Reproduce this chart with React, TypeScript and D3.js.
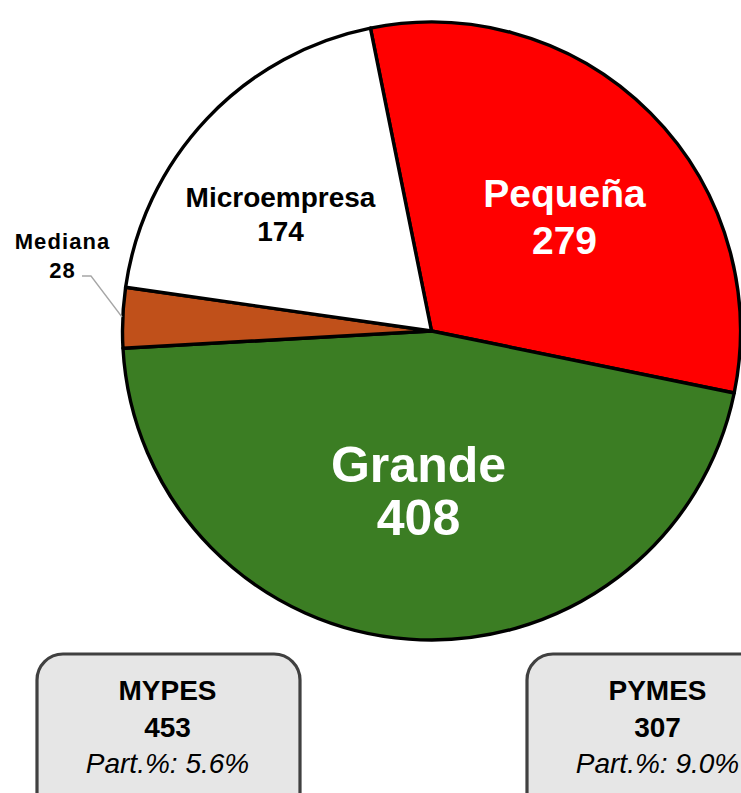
import React, { useMemo } from 'react';
import * as d3 from 'd3';

const categories = ['Pequeña', 'Grande', 'Mediana', 'Microempresa'];
const values = [279, 408, 28, 174];
const sliceColors = ['#ff0000', '#3b7d23', '#c0501a', '#ffffff'];

const groupNames = ['MYPES', 'PYMES'];
const groupValues = [453, 307];
const groupShares = ['5.6%', '9.0%'];

const FONT = '"Liberation Sans", Arial, Helvetica, sans-serif';

export default function App() {
  const width = 741;
  const height = 793;
  const cx = 431.5;
  const cy = 331;
  const radius = 309;

  // starting angle read from the Pequeña / Microempresa boundary at the top
  const startAngle = (-11.4 * Math.PI) / 180;

  const arcs = useMemo(() => {
    const pie = d3
      .pie<number>()
      .sort(null)
      .startAngle(startAngle)
      .endAngle(startAngle + 2 * Math.PI);
    return pie(values);
  }, []);

  const arc = d3.arc<d3.PieArcDatum<number>>().innerRadius(0).outerRadius(radius);

  // label positions (relative to centre) and styling per slice
  const labelCfg = [
    { dx: 133, size: 39, gap: 47, fill: '#ffffff', nameY: 207, spacing: 0 },
    { dx: -13, size: 50, gap: 53, fill: '#ffffff', nameY: 482, spacing: 0 },
    { dx: -369, size: 22, gap: 29, fill: '#000000', nameY: 249, spacing: 1.1 },
    { dx: -151, size: 28, gap: 34, fill: '#000000', nameY: 207, spacing: 0 },
  ];

  const boxX = [37, 527];
  const boxW = 263;

  return (
    <div style={{ position: 'absolute', left: 0, top: 0 }}>
      <svg width={width} height={height} style={{ display: 'block', background: '#ffffff' }}>
        <g transform={`translate(${cx},${cy})`}>
          {arcs.map((a, i) => (
            <path
              key={categories[i]}
              d={arc(a) ?? ''}
              fill={sliceColors[i]}
              stroke="#000000"
              strokeWidth={3.4}
              strokeLinejoin="round"
            />
          ))}
        </g>

        {/* Mediana leader line */}
        <polyline
          points={`82,276 91,276 122,317`}
          fill="none"
          stroke="#a6a6a6"
          strokeWidth={1.3}
        />

        {/* Slice labels */}
        {categories.map((name, i) => {
          const c = labelCfg[i];
          const x = cx + c.dx;
          return (
            <g key={name} fontFamily={FONT} fontWeight="bold" fill={c.fill} textAnchor="middle">
              <text x={x} y={c.nameY} fontSize={c.size} letterSpacing={c.spacing}>
                {name}
              </text>
              <text x={x} y={c.nameY + c.gap} fontSize={c.size} letterSpacing={c.spacing}>
                {values[i]}
              </text>
            </g>
          );
        })}

        {/* Summary boxes */}
        {groupNames.map((g, i) => {
          const x = boxX[i];
          const mid = x + boxW / 2 - 1;
          return (
            <g key={g} fontFamily={FONT} textAnchor="middle" fill="#000000">
              <rect
                x={x}
                y={654}
                width={boxW}
                height={170}
                rx={26}
                ry={26}
                fill="#e6e6e6"
                stroke="#404040"
                strokeWidth={3.2}
              />
              <text x={mid} y={700} fontSize={28} fontWeight="bold">
                {g}
              </text>
              <text x={mid} y={737} fontSize={28} fontWeight="bold">
                {groupValues[i]}
              </text>
              <text x={mid} y={773} fontSize={28} fontStyle="italic">
                {`Part.%: ${groupShares[i]}`}
              </text>
            </g>
          );
        })}
      </svg>
    </div>
  );
}
